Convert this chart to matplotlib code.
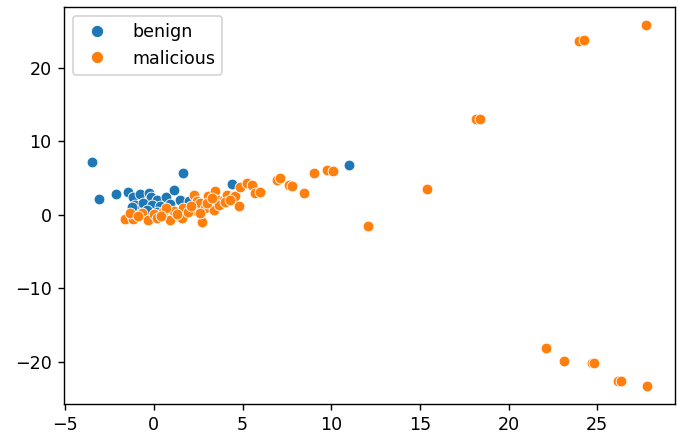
import numpy as np
import matplotlib
matplotlib.use("Agg")
import matplotlib.pyplot as plt
from matplotlib.lines import Line2D

# 2-D projection of the traffic features, one point per sample
benign_x = [-3.50, -3.07, -2.15, -1.43, -1.19, -0.77, -0.25, -0.17, 0.17, 0.69,
            1.16, 1.67, -1.06, -0.59, -0.11, 0.36, 1.49, -1.24, 4.43, 11.0,
            0.9, 2.0, -0.4, 0.2]
benign_y = [7.2, 2.18, 2.8, 3.04, 2.41, 2.82, 3.0, 2.41, 2.05, 2.41,
            3.32, 5.7, 1.36, 1.6, 1.36, 1.13, 2.05, 1.1, 4.1, 6.7,
            1.5, 1.8, 0.6, 0.4]

malicious_x = [-1.62, -1.24, -1.15, -1.34, -0.68, -0.31, -0.02, 0.51, 0.92, 1.11,
               1.49, 1.67, 1.58, 2.24, 2.33, 2.43, 2.62, 2.9, 2.71, 3.37,
               3.08, 3.46, 3.56, 3.93, 4.12, 4.5, 4.59, 4.78, 4.88, 5.25,
               5.56, 5.72, 6.0, 6.95, 7.14, 7.6, 7.8, 8.45, 9.02, 9.77,
               10.1, 12.07, 15.42, 18.15, 18.38, 23.95, 24.24, 27.72, 22.11, 23.14,
               24.71, 24.84, 26.16, 26.34, 27.81, 0.2, 0.7, 1.9, 2.1, 3.0,
               3.7, 4.0, 4.3, -0.9, 0.4, 2.6, 1.3, 3.3]
malicious_y = [-0.6, -0.23, -0.59, 0.23, 0.2, -0.68, 0.1, 0.32, -0.68, 0.45,
               -0.3, 0.91, -0.45, 2.65, 0.68, 1.82, 1.59, 0.95, -1.05, 0.68,
               2.5, 3.18, 2.05, 2.05, 2.73, 2.5, 2.59, 1.2, 3.8, 4.32,
               3.96, 2.96, 3.1, 4.77, 5.0, 3.96, 3.86, 2.96, 5.7, 6.1,
               5.9, -1.5, 3.55, 13.05, 13.05, 23.64, 23.78, 25.78, -18.1, -19.92,
               -20.23, -20.15, -22.6, -22.6, -23.29, -0.4, 0.9, 0.3, 1.2, 1.6,
               1.3, 1.7, 2.0, -0.2, -0.2, 0.2, 0.1, 2.2]

LABELS = ['benign', 'malicious']
COLORS = ['#1f77b4', '#ff7f0e']

fig = plt.figure(figsize=(681 / 126, 439 / 126), dpi=126)
ax = fig.add_axes([0.094, 0.080, 0.897, 0.904])

for (xs, ys), label, color in zip([(benign_x, benign_y), (malicious_x, malicious_y)],
                                  LABELS, COLORS):
    ax.scatter(xs, ys, s=38, color=color, edgecolor='white', linewidth=0.5, label=label)

handles = [Line2D([], [], linestyle='', marker='o', markersize=7, color=c,
                  markeredgecolor='white', markeredgewidth=0.5) for c in COLORS]
ax.legend(handles, LABELS, loc='upper left', handletextpad=1.0)
fig.savefig('out.png', dpi=126)
